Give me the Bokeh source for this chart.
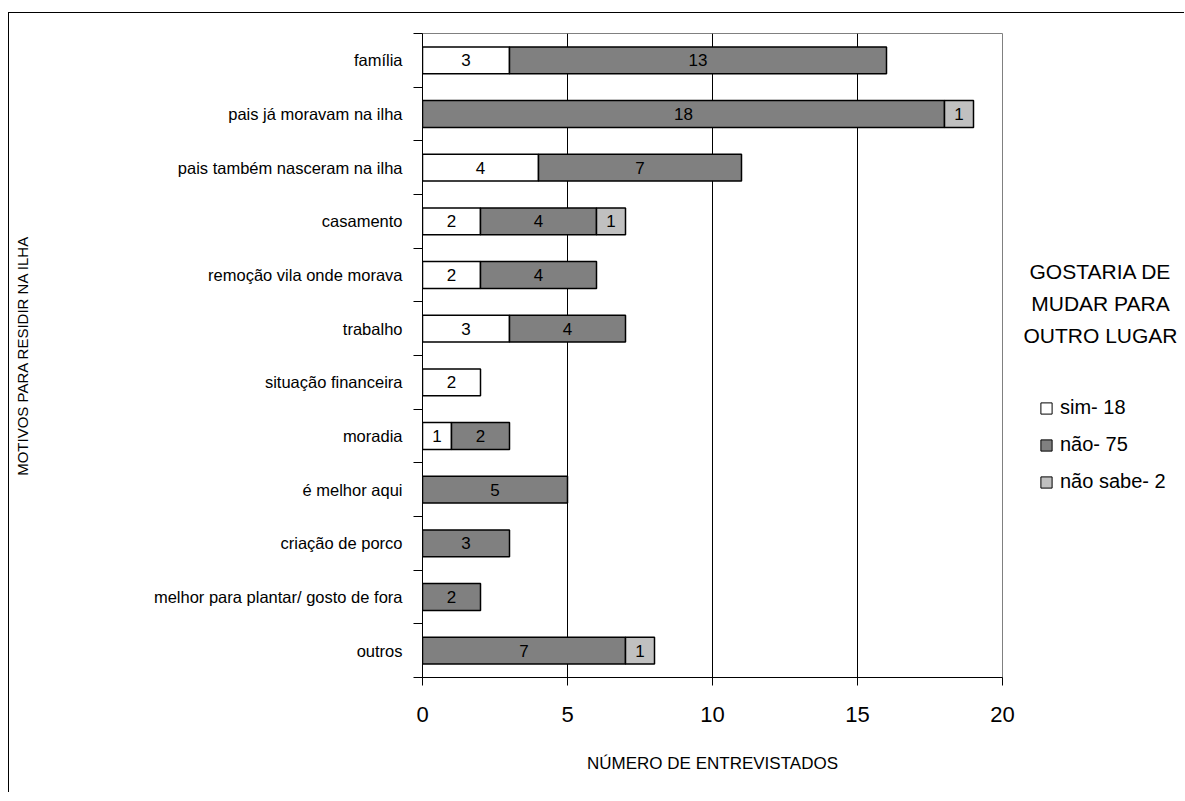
from bokeh.plotting import figure
from bokeh.layouts import row
from bokeh.models import (ColumnDataSource, FixedTicker, Label, Legend, LegendItem, Range1d)
from bokeh.embed import file_html
from bokeh.resources import INLINE
from bokeh.core.properties import value

# ---------------- data ----------------
categories = [
    "família",
    "pais já moravam na ilha",
    "pais também nasceram na ilha",
    "casamento",
    "remoção vila onde morava",
    "trabalho",
    "situação financeira",
    "moradia",
    "é melhor aqui",
    "criação de porco",
    "melhor para plantar/ gosto de fora",
    "outros",
]
sim = [3, 0, 4, 2, 2, 3, 2, 1, 0, 0, 0, 0]
nao = [13, 18, 7, 4, 4, 4, 0, 2, 5, 3, 2, 7]
nao_sabe = [0, 1, 0, 1, 0, 0, 0, 0, 0, 0, 0, 1]
series_labels = ["sim- 18", "não- 75", "não sabe- 2"]
legend_title = ["GOSTARIA DE", "MUDAR PARA", "OUTRO LUGAR"]
x_ticks = [0, 5, 10, 15, 20]
grid_ticks = [5, 10, 15]
x_title = "NÚMERO DE ENTREVISTADOS"
y_title = "MOTIVOS PARA RESIDIR NA ILHA"

FONT = "Liberation Sans"
colors = ["#ffffff", "#808080", "#c0c0c0"]

n = len(categories)
ypos = [n - 1 - i for i in range(n)]

H = 780
p = figure(width=1009, height=H,
           x_range=Range1d(0, 20), y_range=Range1d(-0.5, n - 0.5),
           output_backend="svg", toolbar_location=None,
           min_border_left=413, min_border_right=16,
           min_border_top=20, min_border_bottom=116)
p.background_fill_color = "white"
p.border_fill_color = "white"
p.outline_line_color = "#808080"
p.outline_line_width = 1

# grid
p.ygrid.visible = False
p.xgrid.ticker = FixedTicker(ticks=grid_ticks)
p.xgrid.grid_line_color = "black"
p.xgrid.grid_line_width = 1

# x axis
xa = p.xaxis[0]
xa.ticker = FixedTicker(ticks=x_ticks)
xa.major_tick_out = 8
xa.major_tick_in = 0
xa.minor_tick_out = 0
xa.minor_tick_in = 0
xa.axis_line_color = "black"
xa.major_tick_line_color = "black"
xa.major_label_text_font = FONT
xa.major_label_text_font_size = "22px"
xa.major_label_text_color = "black"
xa.major_label_standoff = 21
xa.axis_label = x_title
xa.axis_label_text_font = FONT
xa.axis_label_text_font_size = "17px"
xa.axis_label_text_font_style = "normal"
xa.axis_label_text_color = "black"
xa.axis_label_standoff = 29

# y axis
ya = p.yaxis[0]
ya.ticker = FixedTicker(ticks=ypos, minor_ticks=[i - 0.5 for i in range(n + 1)])
ya.major_label_overrides = {y: c for y, c in zip(ypos, categories)}
ya.major_tick_out = 0
ya.major_tick_in = 0
ya.minor_tick_out = 9
ya.minor_tick_in = 0
ya.minor_tick_line_color = "black"
ya.axis_line_color = "black"
ya.major_label_text_font = FONT
ya.major_label_text_font_size = "16.5px"
ya.major_label_text_color = "black"
ya.major_label_standoff = 11
ya.axis_label = y_title
ya.axis_label_text_font = FONT
ya.axis_label_text_font_size = "15px"
ya.axis_label_text_font_style = "normal"
ya.axis_label_text_color = "black"
ya.axis_label_standoff = 120

# bars
sources = []
cum = [0] * n
for vals, col in zip([sim, nao, nao_sabe], colors):
    left, right, yy, lab, mid = [], [], [], [], []
    for i, v in enumerate(vals):
        if v > 0:
            left.append(cum[i])
            right.append(cum[i] + v)
            yy.append(ypos[i])
            lab.append(str(v))
            mid.append(cum[i] + v / 2)
        cum[i] += v
    src = ColumnDataSource(dict(left=left, right=right, y=yy, lab=lab, mid=mid))
    sources.append(src)
    p.hbar(y="y", left="left", right="right", height=0.5, source=src,
           fill_color=col, line_color="black", line_width=1.5)
    p.text(x="mid", y="y", text="lab", source=src, text_align="center",
           text_baseline="middle", text_font=value(FONT),
           text_font_size="17px", text_color="black")

# ---------------- legend panel ----------------
# the side panel refers to the same series; its x range lies entirely below zero,
# so the bars fall outside its frame and only the legend (and title) is visible
side = figure(width=167, height=H, x_range=Range1d(-25, -5), y_range=Range1d(-0.5, n - 0.5),
              output_backend="svg", toolbar_location=None,
              x_axis_type=None, y_axis_type=None,
              min_border=0, min_border_left=0, min_border_right=0,
              min_border_top=0, min_border_bottom=0)
side.grid.visible = False
side.outline_line_color = None
side.background_fill_color = "white"
side.border_fill_color = "white"

side_r = []
for src, col in zip(sources, colors):
    r = side.hbar(y="y", left="left", right="right", height=0.5, source=src,
                  fill_color=col, line_color="black", line_width=1)
    side_r.append(r)

legend = Legend(items=[LegendItem(label=lbl, renderers=[r])
                       for lbl, r in zip(series_labels, side_r)],
                location=(21, 184), orientation="vertical",
                glyph_width=14, glyph_height=14, label_height=20,
                label_standoff=7, spacing=14, padding=0, margin=0,
                border_line_alpha=0, background_fill_alpha=0,
                label_text_font=FONT, label_text_font_size="20px",
                label_text_color="black")
side.add_layout(legend)

for k, t in enumerate(legend_title):
    side.add_layout(Label(x=82, y=406 - 32 * k, x_units="screen", y_units="screen",
                          text=t, text_align="center", text_baseline="middle",
                          text_font=FONT, text_font_size="21px", text_color="black"))

layout = row(p, side)
layout.margin = (13, 0, 0, 9)
layout.styles = {"box-shadow": "-1px -1px 0 0 #000000"}

open("out.html", "w").write(file_html(layout, INLINE))
